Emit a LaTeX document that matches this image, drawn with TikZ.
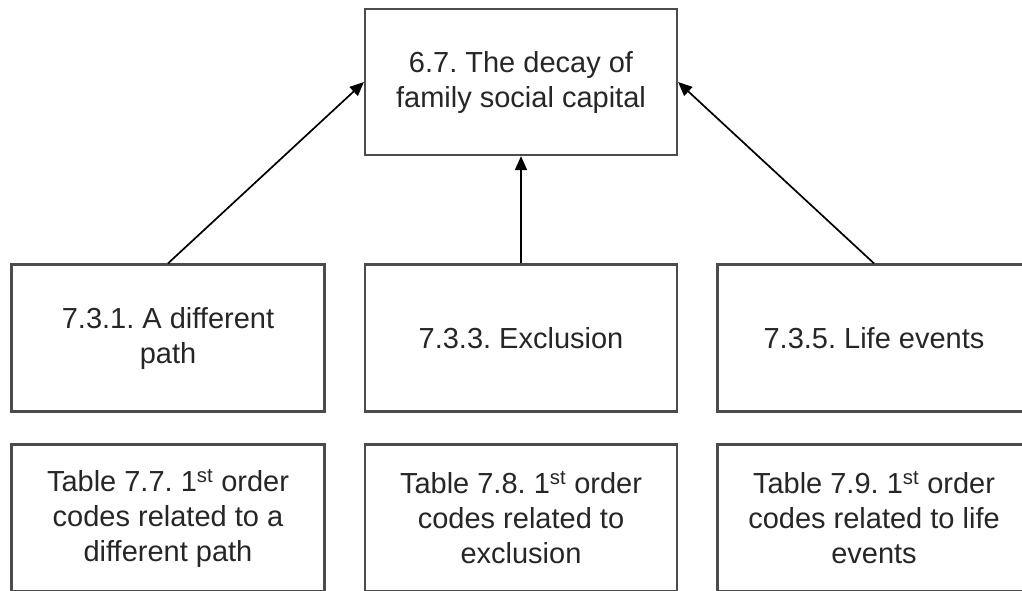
\documentclass[tikz,border=0pt]{standalone}
\usepackage{fontspec}
\setmainfont{Liberation Sans}
\usetikzlibrary{arrows.meta}
\frenchspacing
\begin{document}
\begin{tikzpicture}[x=1pt,y=-1pt,
  box/.style={draw=black!70, line width=2.2pt, rectangle, minimum width=313pt,
    minimum height=147pt, inner sep=0pt, align=center, text=black!85,
    font=\fontsize{29}{35}\selectfont},
  link/.style={line width=1.7pt, black, -{Triangle[length=14pt,width=12pt]}}]
  \useasboundingbox (0,0) rectangle (1022,590);
  % top heading
  \node[box, minimum width=312pt, minimum height=146pt] (top) at (521,82) {6.7. The decay of\\family social capital};
  % section boxes
  \node[box] (s1) at (168,338) {7.3.1. A different\\path};
  \node[box, minimum width=312pt] (s3) at (521,338) {7.3.3. Exclusion};
  \node[box] (s5) at (874,338) {7.3.5. Life events};
  % table boxes
  \node[box] (t7) at (168,518) {Table 7.7. 1\textsuperscript{st} order\\codes related to a\\different path};
  \node[box, minimum width=312pt] (t8) at (521,518) {Table 7.8. 1\textsuperscript{st} order\\codes related to\\exclusion};
  \node[box] (t9) at (874,518) {Table 7.9. 1\textsuperscript{st} order\\codes related to life\\events};
  % connectors
  \draw[link] (s1.north) -- (top.west);
  \draw[link] (s3.north) -- (top.south);
  \draw[link] (s5.north) -- (top.east);
\end{tikzpicture}
\end{document}
